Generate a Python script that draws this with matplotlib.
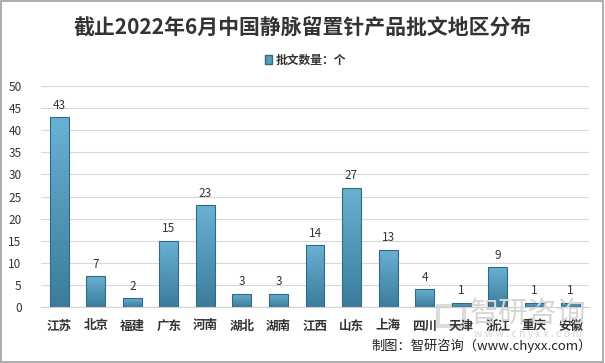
import matplotlib
matplotlib.use("Agg")
import matplotlib.pyplot as plt
import numpy as np
from matplotlib.patches import Rectangle, Patch
from matplotlib.colors import LinearSegmentedColormap

plt.rcParams['font.family'] = ['Noto Sans CJK SC', 'DejaVu Sans']

categories = ["江苏", "北京", "福建", "广东", "河南", "湖北", "湖南", "江西", "山东", "上海", "四川", "天津", "浙江", "重庆", "安徽"]
values = [43, 7, 2, 15, 23, 3, 3, 14, 27, 13, 4, 1, 9, 1, 1]
yticks = [0, 5, 10, 15, 20, 25, 30, 35, 40, 45, 50]

fig = plt.figure(figsize=(6.05, 3.63), dpi=100)
fig.patch.set_facecolor("white")
fig.add_artist(Rectangle((0.002, 0.003), 0.995, 0.994, transform=fig.transFigure,
                         fill=False, edgecolor="#a0a0a0", linewidth=1.2))

# watermark (behind everything)
fig.add_artist(Rectangle((438/605, 1-326/363), 26/605, 20/363, transform=fig.transFigure,
                         fill=False, edgecolor="#dcdcdc", linewidth=3, zorder=0))
fig.text(528/605, 1 - 314/363, "智研咨询", ha="center", va="center", fontsize=21,
         color="#d6d6d6", zorder=0)
fig.text(528/605, 1 - 334/363, "w w w . c h y x x . c o m", ha="center", va="center", fontsize=7.5,
         color="#d6d6d6", zorder=0)

ax = fig.add_axes([41/605, 1-307/363, 548/605, (307-86)/363])
ax.patch.set_alpha(0)
x = np.arange(len(categories))
bars = ax.bar(x, values, width=0.52, color="none", edgecolor="#2f6b86", linewidth=0.8, zorder=3)

grad = np.linspace(0, 1, 256).reshape(-1, 1)
cmap = LinearSegmentedColormap.from_list("g", ["#3b7c9c", "#6ab1d3"])
for b in bars:
    x0, w, h = b.get_x(), b.get_width(), b.get_height()
    im = ax.imshow(grad, extent=[x0, x0 + w, 0, h], origin="lower", cmap=cmap,
                   aspect="auto", zorder=2)
    im.set_clip_path(b)
    ax.text(x0 + w/2, h + 1.2, str(int(h)), ha="center", va="bottom", fontsize=8.5,
            color="#333333", zorder=4)

ax.set_xlim(-0.5, len(categories) - 0.5)
ax.set_ylim(0, 50)
ax.set_yticks(yticks)
ax.set_xticks(x)
ax.set_xticklabels(categories, fontsize=9, fontweight="bold", color="#333333")
ax.tick_params(axis="y", labelsize=8.5, colors="#333333", length=0, pad=14)
ax.tick_params(axis="x", length=0, pad=9)
ax.grid(axis="y", color="#d9d9d9", linewidth=0.8, zorder=0)
for s in ["top", "right", "left"]:
    ax.spines[s].set_visible(False)
ax.spines["bottom"].set_color("#d0d0d0")
ax.set_aspect("auto")

fig.text(0.5, 1 - 27/363, "截止2022年6月中国静脉留置针产品批文地区分布", ha="center", va="center",
         fontsize=15, fontweight="bold", color="#333333")
leg = fig.legend(handles=[Patch(facecolor="#5a9dc0", edgecolor="#2f6b86", label="批文数量：个")],
                 loc="center", bbox_to_anchor=(0.505, 1 - 60/363), frameon=False,
                 fontsize=8.5, handlelength=0.6, handleheight=0.8, handletextpad=0.3)
for t in leg.get_texts():
    t.set_fontweight("bold")
    t.set_color("#333333")

fig.text(592/605, 1 - 346/363, "制图：智研咨询（www.chyxx.com）", ha="right", va="center",
         fontsize=9.5, color="#222222")

fig.savefig("out.png", dpi=100, facecolor="white")
